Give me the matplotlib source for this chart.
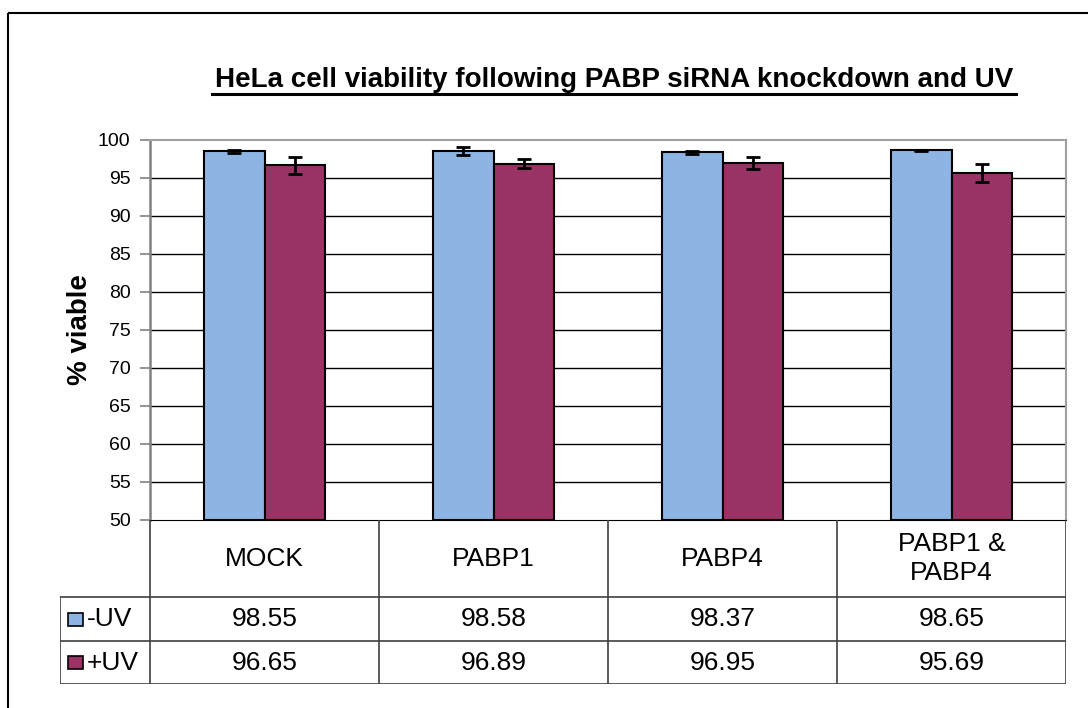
import numpy as np
import matplotlib
matplotlib.use('Agg')
import matplotlib.pyplot as plt
from matplotlib.patches import Rectangle

plt.rcParams['font.family'] = ['Liberation Sans', 'DejaVu Sans']

categories = ['MOCK', 'PABP1', 'PABP4', 'PABP1 &\nPABP4']
series = ['-UV', '+UV']
minus_uv = [98.55, 98.58, 98.37, 98.65]
plus_uv = [96.65, 96.89, 96.95, 95.69]
minus_err = [0.2, 0.5, 0.2, 0.1]
plus_err = [1.1, 0.6, 0.8, 1.2]
colors = ['#8EB4E3', '#993366']

W, H = 1088, 708
fig = plt.figure(figsize=(W / 100, H / 100), dpi=100)

def box(x0, y0, x1, y1):
    # pixel box (top-left origin) -> figure fraction rect
    return [x0 / W, 1 - y1 / H, (x1 - x0) / W, (y1 - y0) / H]

# outer chart frame (runs off the right and bottom edges)
frame = fig.add_axes([0, 0, 1, 1])
frame.set_xlim(0, W)
frame.set_ylim(H, 0)
frame.axis('off')
frame.add_patch(Rectangle((8, 13), 1100, 720, fill=False, ec='black', lw=1.5))

PL, PR, PT, PB = 150, 1066, 140, 520
ax = fig.add_axes(box(PL, PT, PR, PB))
x = np.arange(len(categories))
bw = 0.266
vals = [minus_uv, plus_uv]
errs = [minus_err, plus_err]
for k in range(2):
    pos = x + (k - 0.5) * bw
    ax.bar(pos, np.array(vals[k]) - 50, bw, bottom=50, color=colors[k],
           edgecolor='black', linewidth=1.5, zorder=3)
    ax.errorbar(pos, vals[k], yerr=errs[k], fmt='none', ecolor='black',
                elinewidth=2, capsize=5, capthick=2, zorder=4)

ax.set_xlim(-0.5, len(categories) - 0.5)
ax.set_ylim(50, 100)
ax.set_yticks(np.arange(50, 101, 5))
for t in np.arange(55, 100, 5):
    ax.axhline(t, color='black', lw=1, zorder=1)
ax.tick_params(axis='y', direction='out', length=7, width=1.2, color='#808080',
               labelsize=14, pad=7)
ax.set_xticks([])
ax.spines['left'].set_color('#808080')
ax.spines['left'].set_linewidth(1.8)
for s in ('top', 'right'):
    ax.spines[s].set_color('#A0A0A0')
    ax.spines[s].set_linewidth(1.5)
ax.spines['bottom'].set_color('black')
ax.set_ylabel('% viable', fontsize=20, fontweight='bold')
ax.yaxis.set_label_coords((93 - PL) / (PR - PL), 0.5)

fig.text(614 / W, 1 - 80 / H, 'HeLa cell viability following PABP siRNA knockdown and UV',
         ha='center', va='center', fontsize=20, fontweight='bold')
frame.plot([212, 1016], [94, 94], color='black', lw=2.2)

# data table under the plot
gw = (PR - PL) / len(categories)
tab = fig.add_axes(box(60, PB, PR, 684))
left = -0.5 - (PL - 60) / gw
tab.set_xlim(left, len(categories) - 0.5)
tab.set_ylim(164, 0)
tab.axis('off')
lk = dict(color='#404040', lw=1.2)
row_y = [0, 77, 121, 164]
for i in range(len(categories) + 1):
    tab.plot([i - 0.5, i - 0.5], [0, 164], **lk)
tab.plot([left, left], [77, 164], **lk)
for yy in row_y[1:]:
    tab.plot([left, len(categories) - 0.5], [yy, yy], **lk)
for i, c in enumerate(categories):
    tab.text(i, 38.5, c, ha='center', va='center', fontsize=19, linespacing=1.3)
for k in range(2):
    yc = (row_y[k + 1] + row_y[k + 2]) / 2
    for i, v in enumerate(vals[k]):
        tab.text(i, yc, f'{v:.2f}', ha='center', va='center', fontsize=19)
    tab.add_patch(Rectangle((left + 8 / gw, yc - 6.5), 15 / gw, 13,
                            fc=colors[k], ec='black', lw=1.2))
    tab.text(left + 27 / gw, yc, series[k], ha='left', va='center', fontsize=19)

fig.savefig('out.png', dpi=100)
